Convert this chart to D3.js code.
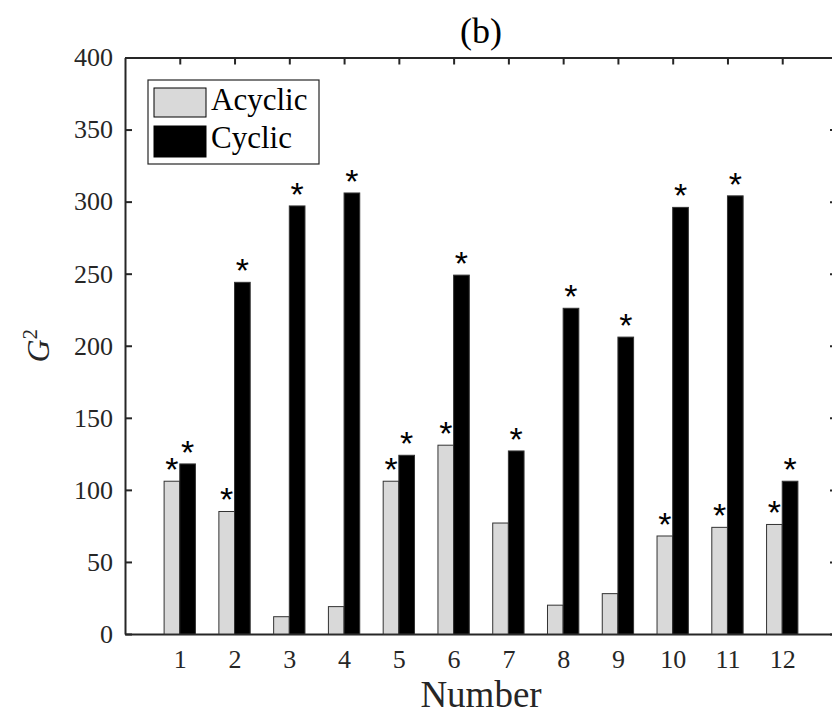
<!DOCTYPE html>
<html>
<head>
<meta charset="utf-8">
<script src="https://cdn.jsdelivr.net/npm/d3@7"></script>
<style>
  html, body { margin: 0; padding: 0; background: #fff; }
  svg { display: block; }
</style>
</head>
<body>
<svg id="chart" width="832" height="715"></svg>
<script>
// ---- data ----
const categories = [1, 2, 3, 4, 5, 6, 7, 8, 9, 10, 11, 12];
const acyclic = [106, 85, 12, 19, 106, 131, 77, 20, 28, 68, 74, 76];
const cyclic  = [118, 244, 297, 306, 124, 249, 127, 226, 206, 296, 304, 106];
const acyclicSig = [true, true, false, false, true, true, false, false, false, true, true, true];
const cyclicSig  = [true, true, true, true, true, true, true, true, true, true, true, true];
const yTicks = [0, 50, 100, 150, 200, 250, 300, 350, 400];
const seriesNames = ["Acyclic", "Cyclic"];
const titleText = "(b)";
const xLabel = "Number";

// ---- layout ----
const L = 125, R = 837, T = 57.5, B = 634;
const axisColor = "#262626";
const serif = "Liberation Serif, DejaVu Serif, Times New Roman, serif";

const svg = d3.select("#chart");
const x = d3.scaleLinear().domain([0, 13]).range([L, R]);
const y = d3.scaleLinear().domain([0, 400]).range([B, T]);
const barW = 0.286; // in x units
const barPx = x(barW) - x(0);

// axes (drawn under bars)
const gLeft = svg.append("g").attr("transform", `translate(${L},0)`)
  .call(d3.axisLeft(y).tickValues(yTicks).tickSize(-7).tickSizeOuter(0).tickPadding(12));
const gBottom = svg.append("g").attr("transform", `translate(0,${B})`)
  .call(d3.axisBottom(x).tickValues(categories).tickSize(-7).tickSizeOuter(0).tickPadding(16));
const gTop = svg.append("g").attr("transform", `translate(0,${T})`)
  .call(d3.axisTop(x).tickValues(categories).tickSize(-7).tickSizeOuter(0).tickFormat(""));
const gRight = svg.append("g").attr("transform", `translate(${R},0)`)
  .call(d3.axisRight(y).tickValues(yTicks).tickSize(-7).tickSizeOuter(0).tickFormat(""));

[gLeft, gBottom, gTop, gRight].forEach(g => {
  g.attr("font-family", null).attr("font-size", null);
  g.selectAll("path.domain").attr("stroke", axisColor).attr("stroke-width", 2);
  g.selectAll(".tick line").attr("stroke", axisColor).attr("stroke-width", 2);
  g.selectAll(".tick text").attr("fill", axisColor)
    .attr("font-family", serif).attr("font-size", 26);
});

// bars
const rows = categories.map((c, i) => ({c, a: acyclic[i], cy: cyclic[i], as: acyclicSig[i], cs: cyclicSig[i]}));
const gBars = svg.append("g");
gBars.selectAll("rect.acyclic").data(rows).join("rect")
  .attr("class", "acyclic")
  .attr("x", d => x(d.c - barW))
  .attr("y", d => y(d.a))
  .attr("width", barPx)
  .attr("height", d => y(0) - y(d.a))
  .attr("fill", "#d9d9d9")
  .attr("stroke", "#333")
  .attr("stroke-width", 1);
gBars.selectAll("rect.cyclic").data(rows).join("rect")
  .attr("class", "cyclic")
  .attr("x", d => x(d.c))
  .attr("y", d => y(d.cy))
  .attr("width", barPx)
  .attr("height", d => y(0) - y(d.cy))
  .attr("fill", "#000")
  .attr("stroke", "#333")
  .attr("stroke-width", 1);

// significance stars
const starFs = 34;
const starOff = 0; // baseline offset below bar top
const gStars = svg.append("g")
  .attr("font-family", "Liberation Sans, Arial, sans-serif")
  .attr("font-size", starFs)
  .attr("text-anchor", "middle")
  .attr("fill", "#000");
gStars.selectAll("text.sa").data(rows.filter(d => d.as)).join("text")
  .attr("class", "sa")
  .attr("x", d => x(d.c - barW / 2))
  .attr("y", d => y(d.a) + starOff)
  .text("*");
gStars.selectAll("text.sc").data(rows.filter(d => d.cs)).join("text")
  .attr("class", "sc")
  .attr("x", d => x(d.c + barW / 2))
  .attr("y", d => y(d.cy) + starOff)
  .text("*");

// title
svg.append("text")
  .attr("x", (L + R) / 2).attr("y", 43)
  .attr("text-anchor", "middle")
  .attr("font-family", serif).attr("font-size", 36)
  .attr("fill", "#000")
  .text(titleText);

// x label
svg.append("text")
  .attr("x", (L + R) / 2).attr("y", 707)
  .attr("text-anchor", "middle")
  .attr("font-family", serif).attr("font-size", 37)
  .attr("fill", "#262626")
  .text(xLabel);

// y label G^2
const yl = svg.append("text")
  .attr("transform", `translate(49,${(T + B) / 2}) rotate(-90)`)
  .attr("text-anchor", "middle")
  .attr("font-family", serif).attr("font-size", 32)
  .attr("fill", "#262626");
yl.append("tspan").attr("font-style", "italic").text("G");
yl.append("tspan").attr("dy", -12).attr("font-size", 21).text("2");

// legend
const lg = svg.append("g");
lg.append("rect").attr("x", 148).attr("y", 80).attr("width", 171).attr("height", 84)
  .attr("fill", "#fff").attr("stroke", axisColor).attr("stroke-width", 1.2);
const fills = ["#d9d9d9", "#000"];
const swY = [88, 126];
const swH = [29, 31];
const txtY = [110, 148];
seriesNames.forEach((n, i) => {
  lg.append("rect").attr("x", 154).attr("y", swY[i]).attr("width", 52).attr("height", swH[i])
    .attr("fill", fills[i]).attr("stroke", "#000").attr("stroke-width", 1);
  lg.append("text").attr("x", 211).attr("y", txtY[i])
    .attr("font-family", serif).attr("font-size", 31)
    .attr("fill", "#000").text(n);
});
</script>
</body>
</html>
